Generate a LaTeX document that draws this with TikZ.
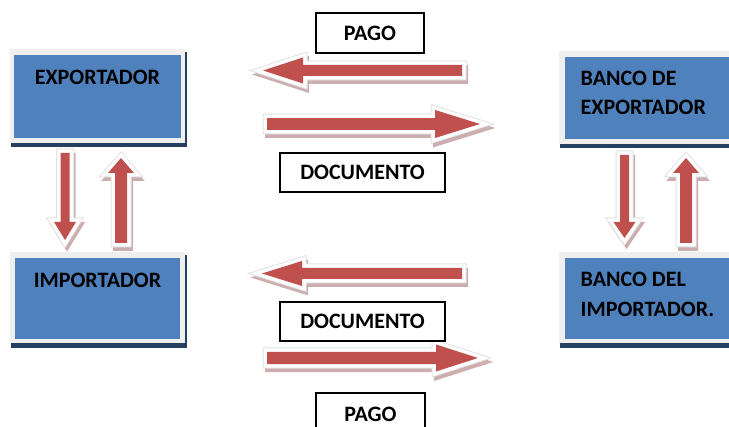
\documentclass[tikz,border=0pt]{standalone}
\usepackage{fontspec}
\setmainfont{Carlito}
\definecolor{boxblue}{HTML}{4F81BD}
\definecolor{boxframe}{HTML}{EFEFEF}
\definecolor{boxnavy}{HTML}{243F60}
\definecolor{arrred}{HTML}{C0504D}
\definecolor{arrshadow}{HTML}{C4A0A0}
\definecolor{arredge}{HTML}{E2E2E2}

% Block arrow: #1,#2 start point, #3 direction angle, #4 length,
% #5 head length, #6 shaft half width, #7 head half width
\newcommand\blockarrow[7]{%
  \def\arrshape{(0,-#6) -- (#4-#5,-#6) -- (#4-#5,-#7) -- (#4,0) -- (#4-#5,#7) -- (#4-#5,#6) -- (0,#6) -- cycle}%
  \begin{scope}[shift={(#1+2,#2+4)},rotate=#3]
    \filldraw[arrshadow, line width=8pt, line join=miter, opacity=.85] \arrshape;
  \end{scope}
  \begin{scope}[shift={(#1,#2)},rotate=#3]
    \draw[arredge, line width=9pt, line join=miter] \arrshape;
    \filldraw[white, line width=7pt, line join=miter] \arrshape;
    \fill[arrred] \arrshape;
  \end{scope}}

\begin{document}
\begin{tikzpicture}[x=1pt, y=-1pt,
  boxtext/.style={inner sep=0pt, font=\fontsize{22}{29.5}\selectfont\bfseries, text=black},
  lbl/.style={draw=black, line width=1.1pt, fill=white, inner sep=0pt,
    font=\fontsize{22}{26}\selectfont\bfseries}]
\useasboundingbox (0,0) rectangle (729,427);

% party boxes: navy edge, light frame, blue face
\fill[boxnavy] (11,52) rectangle (187,147);
\fill[boxframe] (10,49) rectangle (185,143);
\fill[boxblue] (14,55) rectangle (181,138);

\fill[boxnavy] (11,255) rectangle (187,348);
\fill[boxframe] (10,252) rectangle (185,343);
\fill[boxblue] (15,258) rectangle (180,339);

\fill[boxnavy] (560,54) rectangle (740,148);
\fill[boxframe] (559,51) rectangle (740,144);
\fill[boxblue] (565,57) rectangle (740,139);

\fill[boxnavy] (560,255) rectangle (740,348);
\fill[boxframe] (559,252) rectangle (740,343);
\fill[boxblue] (565,258) rectangle (740,339);

\node[boxtext, anchor=base] (exp) at (97.5,84.8) {EXPORTADOR};
\node[boxtext, anchor=base] (imp) at (97.5,287.1) {IMPORTADOR};
\node[boxtext, anchor=north west, align=left] (bexp) at (580.5,70.6) {BANCO DE\\EXPORTADOR};
\node[boxtext, anchor=north west, align=left] (bimp) at (580.5,272.2) {BANCO DEL\\IMPORTADOR.};

% horizontal arrows between the parties
\blockarrow{462}{70.5}{180}{199}{40}{5.5}{13}
\blockarrow{267}{124}{0}{213}{45}{5.8}{14}
\blockarrow{462}{273.5}{180}{200}{40}{5.5}{12.5}
\blockarrow{267}{358}{0}{211}{42}{6.2}{13.5}

% vertical arrows between each exporter and importer side
\blockarrow{65}{153}{-90}{87}{18}{4.5}{11}
\blockarrow{121}{243}{90}{85}{15}{6}{13}
\blockarrow{624.5}{155}{-90}{83}{16}{4.5}{11}
\blockarrow{686}{243}{90}{85}{15}{6}{13}

% labels
\node[lbl, minimum width=108, minimum height=40] (pago1) at (370,33) {PAGO};
\node[lbl, minimum width=165, minimum height=39] (doc1) at (362.5,172.5) {DOCUMENTO};
\node[lbl, minimum width=165, minimum height=39] (doc2) at (362.5,321.5) {DOCUMENTO};
\node[lbl, minimum width=109, minimum height=42] (pago2) at (370.5,414) {PAGO};
\end{tikzpicture}
\end{document}
